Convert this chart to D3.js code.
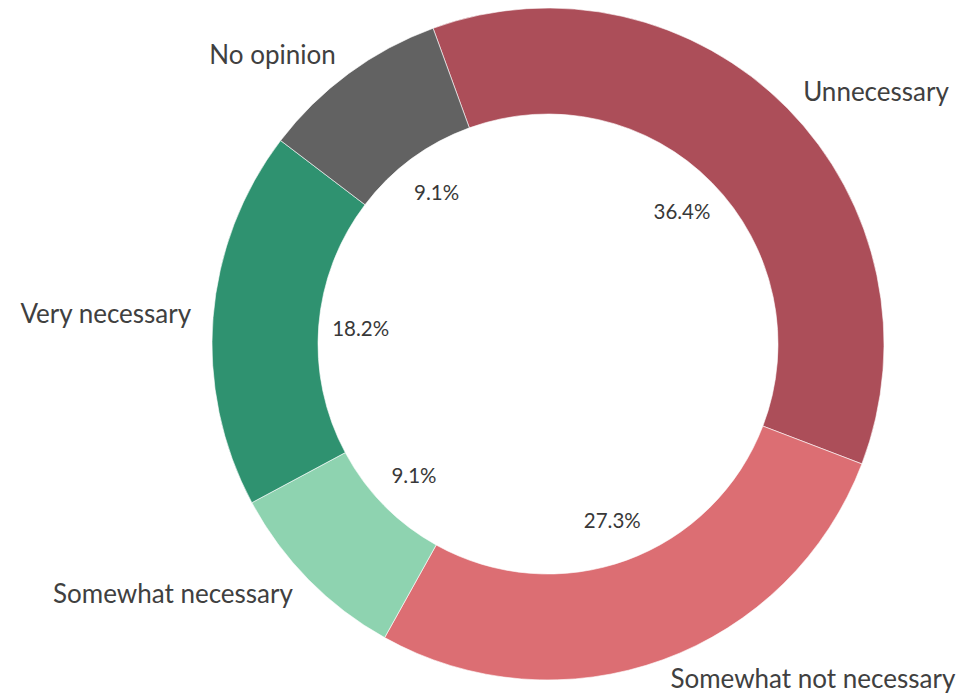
<!DOCTYPE html>
<html>
<head>
<meta charset="utf-8">
<script src="https://cdn.jsdelivr.net/npm/d3@7"></script>
<style>
  body { margin: 0; background: #fff; }
  svg { display: block; }
  .cat-label { font-family: Lato, "Open Sans", sans-serif; font-size: 26px; fill: #404040; }
  .pct-label { font-family: Lato, "Open Sans", sans-serif; font-size: 20.5px; fill: #383838; }
</style>
</head>
<body>
<div id="chart"></div>
<script>
// data, clockwise from the top
const categories = ['Unnecessary', 'Somewhat not necessary', 'Somewhat necessary', 'Very necessary', 'No opinion'];
const counts = [4, 3, 1, 2, 1];
const colors = ['#ac4e59', '#dc6e73', '#8ed3b0', '#2f9270', '#626262'];

const width = 965, height = 695;
const cx = 548, cy = 344;
const outerR = 336, innerR = 230;
const labelR = 358; // category names sit just outside the ring
const pctR = 188;   // percentages sit inside the hole
const rotation = -20 * Math.PI / 180; // first slice starts a bit left of 12 o'clock

const dataset = categories.map((c, i) => ({ label: c, count: counts[i], color: colors[i] }));
const total = d3.sum(dataset, d => d.count);

const svg = d3.select('#chart')
  .append('svg')
  .attr('width', width)
  .attr('height', height)
  .append('g')
  .attr('transform', 'translate(' + cx + ',' + cy + ')');

const pie = d3.pie()
  .value(d => d.count)
  .sort(null)
  .startAngle(rotation)
  .endAngle(rotation + 2 * Math.PI);

const arc = d3.arc().innerRadius(innerR).outerRadius(outerR);
const arcs = pie(dataset);

svg.selectAll('path')
  .data(arcs)
  .enter()
  .append('path')
  .attr('d', arc)
  .attr('fill', d => d.data.color)
  .attr('stroke', '#fff')
  .attr('stroke-width', 0.6);

const mid = d => (d.startAngle + d.endAngle) / 2;

// category names outside the ring
svg.selectAll('.cat-label')
  .data(arcs)
  .enter()
  .append('text')
  .attr('class', 'cat-label')
  .attr('x', d => labelR * Math.sin(mid(d)))
  .attr('y', d => -labelR * Math.cos(mid(d)))
  .attr('dy', '0.3em')
  .attr('text-anchor', d => Math.sin(mid(d)) >= 0 ? 'start' : 'end')
  .text(d => d.data.label);

// percentages inside the hole
svg.selectAll('.pct-label')
  .data(arcs)
  .enter()
  .append('text')
  .attr('class', 'pct-label')
  .attr('x', d => pctR * Math.sin(mid(d)))
  .attr('y', d => -pctR * Math.cos(mid(d)))
  .attr('dy', '0.35em')
  .attr('text-anchor', 'middle')
  .text(d => (Math.round(1000 * d.data.count / total) / 10).toFixed(1) + '%');
</script>
</body>
</html>
